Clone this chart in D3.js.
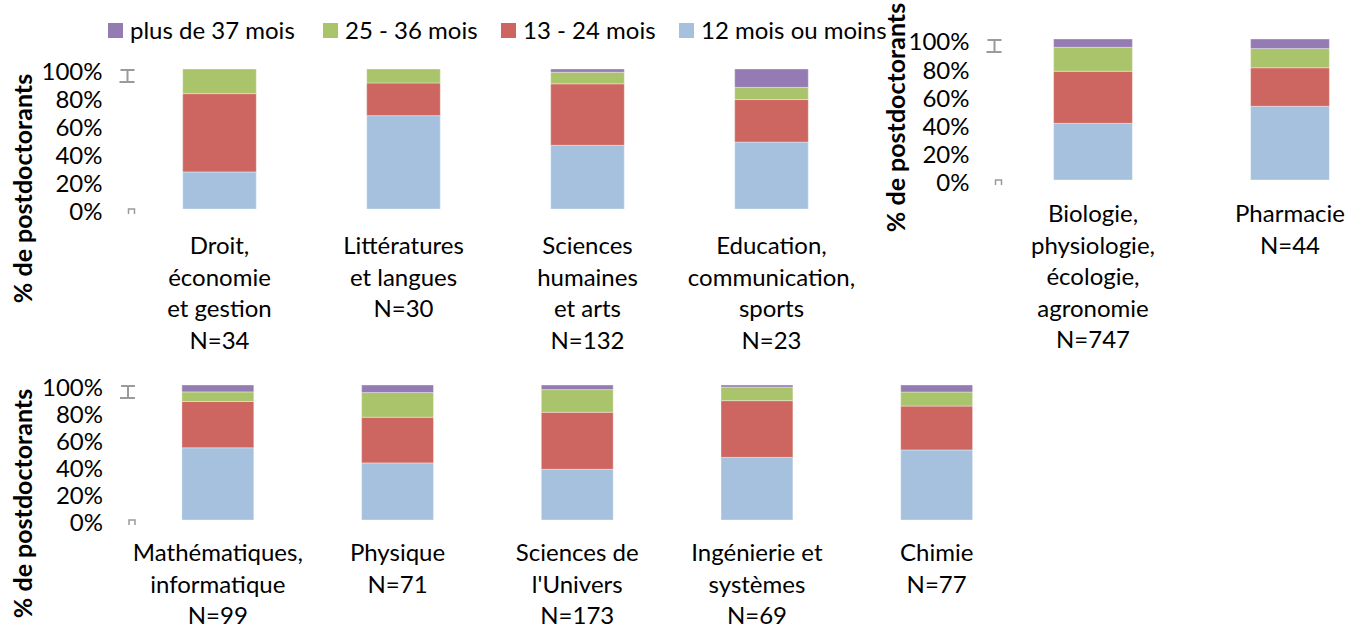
<!DOCTYPE html>
<html><head><meta charset="utf-8">
<script src="https://cdn.jsdelivr.net/npm/d3@7/dist/d3.min.js"></script>
<style>
body{margin:0;background:#fff}
svg{display:block}
text{font-family:Lato,"Open Sans",sans-serif;fill:#000}
</style>
</head><body>
<svg id="chart" width="1364" height="633"></svg>
<script>
// ---------- data ----------
const seriesNames = ["12 mois ou moins", "13 - 24 mois", "25 - 36 mois", "plus de 37 mois"];
const seriesColors = ["#A6C1DE", "#CD6660", "#AAC46B", "#957BB3"];
const legendOrder = [3, 2, 1, 0];

const categories = [
  "Droit, économie et gestion", "Littératures et langues", "Sciences humaines et arts",
  "Education, communication, sports", "Biologie, physiologie, écologie, agronomie", "Pharmacie",
  "Mathématiques, informatique", "Physique", "Sciences de l'Univers", "Ingénierie et systèmes", "Chimie"
];
const categoryLabels = [
  ["Droit,", "économie", "et gestion", "N=34"],
  ["Littératures", "et langues", "N=30"],
  ["Sciences", "humaines", "et arts", "N=132"],
  ["Education,", "communication,", "sports", "N=23"],
  ["Biologie,", "physiologie,", "écologie,", "agronomie", "N=747"],
  ["Pharmacie", "N=44"],
  ["Mathématiques,", "informatique", "N=99"],
  ["Physique", "N=71"],
  ["Sciences de", "l'Univers", "N=173"],
  ["Ingénierie et", "systèmes", "N=69"],
  ["Chimie", "N=77"]
];
const panelOfCategory = [0, 0, 0, 0, 1, 1, 2, 2, 2, 2, 2];

const mois12 = [26.5, 66.7, 45.5, 47.8, 40.2, 52.3, 53.5, 42.3, 37.6, 46.4, 51.9];
const mois24 = [55.9, 23.3, 43.9, 30.4, 36.9, 27.3, 34.3, 33.8, 42.2, 42.0, 32.5];
const mois36 = [17.6, 10.0, 8.3, 8.7, 17.0, 13.6, 7.1, 18.3, 16.8, 10.1, 10.4];
const mois37 = [0.0, 0.0, 2.3, 13.1, 5.9, 6.8, 5.1, 5.6, 3.4, 1.5, 5.2];

const yTicks = [0, 20, 40, 60, 80, 100];
const yTitle = "% de postdoctorants";

// ---------- layout ----------
const panels = [
  {x0: 127.5, x1: 863.5, yBottom: 209, yTop: 69, titleX: 23, titleY: 188.5, labelY: 254},
  {x0: 994.5, x1: 1388.5, yBottom: 180, yTop: 39, titleX: 896, titleY: 117.5, labelY: 222},
  {x0: 128, x1: 1026.5, yBottom: 520, yTop: 385, titleX: 23, titleY: 503.5, labelY: 561}
];
const fontSize = 24;
const lineGap = 31.5;

const svg = d3.select("#chart");
const valuesBySeries = [mois12, mois24, mois36, mois37];

const rows = categories.map((c, i) => {
  const r = {cat: c};
  seriesNames.forEach((s, k) => r[s] = valuesBySeries[k][i]);
  return r;
});
const stack = d3.stack().keys(seriesNames);

panels.forEach((p, pi) => {
  const idx = categories.map((c, i) => i).filter(i => panelOfCategory[i] === pi);
  const data = idx.map(i => rows[i]);
  const x = d3.scaleBand().domain(data.map(d => d.cat)).range([p.x0, p.x1])
    .paddingInner(0.6).paddingOuter(0.3);
  const y = d3.scaleLinear().domain([0, 100]).range([p.yBottom, p.yTop]);

  const g = svg.append("g");
  const stacked = stack(data);
  stacked.forEach((layer, k) => {
    g.append("g").attr("fill", seriesColors[k])
      .selectAll("rect").data(layer.filter(d => d[1] - d[0] > 0)).join("rect")
      .attr("x", d => x(d.data.cat))
      .attr("width", x.bandwidth())
      .attr("y", d => y(d[1]))
      .attr("height", d => y(d[0]) - y(d[1]))
      .attr("stroke", "#fff").attr("stroke-opacity", 0.35).attr("stroke-width", 1);
  });

  // y axis
  const ax = g.append("g").attr("transform", `translate(${p.x0},0)`)
    .call(d3.axisLeft(y).tickValues(yTicks).tickFormat(d => d + "%").tickSize(0).tickPadding(25));
  ax.select(".domain").remove();
  ax.selectAll("text").attr("font-size", fontSize).attr("dy", "0.45em")
    .style("font-family", "Lato, sans-serif").attr("fill", "#000");

  // small grey bracket marks at the axis
  const yt = y(100), yb = y(0), ax0 = p.x0;
  g.append("path")
    .attr("d", `M${ax0 - 7},${yt + 1}H${ax0 + 7}M${ax0},${yt + 1}V${yt + 13}M${ax0 - 8},${yt + 13}H${ax0 + 7}`)
    .attr("stroke", "#9a9a9a").attr("stroke-width", 2).attr("fill", "none");
  g.append("path")
    .attr("d", `M${ax0 + 1},${yb + 5}V${yb}H${ax0 + 7}V${yb + 5}`)
    .attr("stroke", "#9a9a9a").attr("stroke-width", 1.5).attr("fill", "none");

  // category labels
  idx.forEach(i => {
    const cx = x(categories[i]) + x.bandwidth() / 2;
    const t = g.append("text").attr("text-anchor", "middle").attr("font-size", fontSize);
    categoryLabels[i].forEach((line, li) => {
      t.append("tspan").attr("x", cx).attr("y", p.labelY + li * lineGap).text(line);
    });
  });

  // y title
  svg.append("text")
    .attr("transform", `translate(${p.titleX},${p.titleY}) rotate(-90)`)
    .attr("text-anchor", "middle").attr("dy", "0.35em")
    .attr("font-size", 25).attr("font-weight", "bold")
    .text(yTitle);
});

// legend
const legendX = [108, 323, 501, 679];
const lg = svg.append("g");
legendOrder.forEach((k, j) => {
  lg.append("rect").attr("x", legendX[j]).attr("y", 23).attr("width", 15).attr("height", 15)
    .attr("fill", seriesColors[k]);
  lg.append("text").attr("x", legendX[j] + 22).attr("y", 39).attr("font-size", fontSize)
    .text(seriesNames[k]);
});
</script>
</body></html>
